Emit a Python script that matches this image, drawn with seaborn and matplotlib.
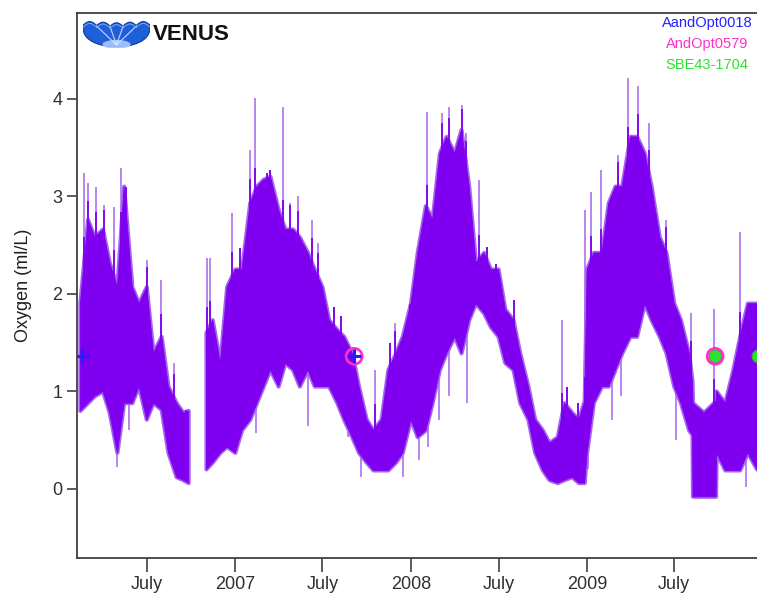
import numpy as np
import pandas as pd
import matplotlib
matplotlib.use("Agg")
import matplotlib.pyplot as plt
import matplotlib.dates as mdates
from matplotlib.patches import Polygon, Ellipse
import seaborn as sns

# ---- oxygen record: envelope of the sensor trace (upper / lower edge) ----
body_dates = [
    "2006-02-13", "2006-03-01", "2006-03-15", "2006-04-01", "2006-04-15",
    "2006-05-01", "2006-05-15", "2006-06-01", "2006-06-15", "2006-07-01",
    "2006-07-15", "2006-08-01", "2006-08-15", "2006-09-01", "2006-09-15",
    "2006-09-26", "2006-10-10", "2006-11-02", "2006-11-15", "2006-12-01",
    "2006-12-15", "2007-01-01", "2007-01-15", "2007-02-01", "2007-02-15",
    "2007-03-01", "2007-03-15", "2007-04-01", "2007-04-15", "2007-05-01",
    "2007-05-15", "2007-06-01", "2007-06-15", "2007-07-01", "2007-07-15",
    "2007-08-01", "2007-08-15", "2007-09-01", "2007-09-15", "2007-10-01",
    "2007-10-15", "2007-11-01", "2007-11-15", "2007-12-01", "2007-12-15",
    "2008-01-01", "2008-01-15", "2008-02-01", "2008-02-15", "2008-03-01",
    "2008-03-15", "2008-04-01", "2008-04-15", "2008-05-01", "2008-05-15",
    "2008-06-01", "2008-06-15", "2008-07-01", "2008-07-15", "2008-08-01",
    "2008-08-15", "2008-09-01", "2008-09-15", "2008-10-01", "2008-10-15",
    "2008-11-01", "2008-11-15", "2008-12-01", "2008-12-15", "2008-12-27",
    "2009-01-01", "2009-01-15", "2009-02-01", "2009-02-15", "2009-03-01",
    "2009-03-15", "2009-04-01", "2009-04-15", "2009-05-01", "2009-05-15",
    "2009-06-01", "2009-06-15", "2009-07-01", "2009-07-15", "2009-08-01",
    "2009-08-08", "2009-08-09", "2009-09-01", "2009-09-26", "2009-09-27",
    "2009-10-15", "2009-11-01", "2009-11-15", "2009-12-01", "2009-12-20",
]
body_hi = [
    1.90, 2.76, 2.58, 2.66, 2.32, 2.07, 3.10, 2.07, 1.90, 2.07,
    1.39, 1.56, 1.05, 0.88, 0.78, 0.80, np.nan, 1.60, 1.73, 1.29,
    2.07, 2.25, 2.25, 2.93, 3.10, 3.17, 3.20, 2.86, 2.66, 2.66,
    2.58, 2.42, 2.25, 2.07, 1.73, 1.63, 1.56, 1.39, 1.05, 0.71,
    0.60, 0.71, 1.22, 1.39, 1.56, 1.90, 2.42, 2.90, 2.76, 3.44,
    3.61, 3.44, 3.68, 3.10, 2.32, 2.42, 2.25, 2.25, 1.84, 1.73,
    1.39, 1.05, 0.71, 0.60, 0.47, 0.53, 0.88, 0.78, 0.71, 0.90,
    2.25, 2.42, 2.42, 2.93, 3.10, 3.10, 3.61, 3.61, 3.44, 3.10,
    2.58, 2.42, 1.90, 1.73, 1.39, 1.10, 0.88, 0.78, 0.90, 1.00,
    0.88, 1.22, 1.56, 1.90, 1.90,
]
body_lo = [
    0.80, 0.88, 0.95, 1.00, 0.78, 0.37, 0.88, 0.88, 1.05, 0.71,
    0.88, 0.81, 0.37, 0.12, 0.09, 0.06, np.nan, 0.20, 0.27, 0.37,
    0.43, 0.37, 0.60, 0.71, 0.88, 1.05, 1.22, 1.05, 1.29, 1.22,
    1.05, 1.22, 1.05, 1.05, 1.05, 0.88, 0.71, 0.53, 0.37, 0.27,
    0.19, 0.19, 0.19, 0.27, 0.37, 0.71, 0.53, 0.60, 0.88, 1.22,
    1.39, 1.56, 1.39, 1.73, 1.90, 1.80, 1.66, 1.56, 1.29, 1.22,
    0.88, 0.71, 0.37, 0.19, 0.09, 0.06, 0.09, 0.12, 0.06, 0.06,
    0.37, 0.88, 1.05, 1.05, 1.22, 1.39, 1.56, 1.56, 1.90, 1.73,
    1.56, 1.39, 1.05, 0.88, 0.60, 0.55, -0.08, -0.08, -0.08, 0.37,
    0.19, 0.19, 0.19, 0.37, 0.20,
]

# isolated upward excursions above the envelope
spike_up_dates = [
    "2006-02-21", "2006-02-28", "2006-03-17", "2006-04-03", "2006-04-23",
    "2006-05-08", "2006-05-18", "2006-07-02", "2006-07-30", "2006-08-27",
    "2006-09-21", "2006-11-04", "2006-11-10", "2006-12-25", "2007-01-11",
    "2007-02-01", "2007-02-10", "2007-03-08", "2007-03-15", "2007-04-11",
    "2007-04-25", "2007-05-11", "2007-06-09", "2007-06-22", "2007-07-25",
    "2007-08-08", "2007-10-19", "2007-11-19", "2007-11-29", "2007-12-30",
    "2008-02-04", "2008-03-06", "2008-03-21", "2008-04-16", "2008-04-25",
    "2008-05-21", "2008-06-07", "2008-06-26", "2008-08-02", "2008-11-09",
    "2008-11-21", "2008-12-13", "2008-12-27", "2009-01-09", "2009-01-29",
    "2009-03-06", "2009-03-27", "2009-04-16", "2009-05-10", "2009-06-14",
    "2009-08-04", "2009-09-21", "2009-11-15", "2009-12-10",
]
spike_up_vals = [
    3.24, 3.14, 3.10, 2.91, 2.89, 3.29, 3.10, 2.35, 2.14, 1.29,
    0.81, 2.37, 2.37, 2.83, 2.47, 3.48, 4.01, 3.24, 3.27, 3.92,
    2.93, 3.00, 2.76, 2.52, 1.87, 1.77, 1.22, 1.50, 1.70, 1.90,
    3.87, 3.85, 3.92, 3.94, 3.65, 3.17, 2.48, 2.31, 1.94, 1.73,
    1.05, 0.88, 2.86, 3.04, 3.27, 3.42, 4.21, 4.13, 3.75, 2.76,
    1.80, 1.84, 2.63, 1.90,
]

# isolated downward excursions below the envelope
spike_dn_dates = [
    "2006-05-01", "2006-05-26", "2007-02-12", "2007-05-31", "2007-08-23",
    "2007-09-20", "2007-12-16", "2008-01-18", "2008-02-06", "2008-02-29",
    "2008-03-20", "2008-04-27", "2009-01-03", "2009-02-22", "2009-03-13",
    "2009-07-05", "2009-11-27",
]
spike_dn_vals = [
    0.23, 0.60, 0.57, 0.65, 0.53, 0.12, 0.12, 0.30, 0.43, 0.71,
    0.95, 0.88, 0.20, 0.71, 0.95, 0.50, 0.02,
]

# sensor change-over markers
sensor_names = ["AandOpt0018", "AndOpt0579", "SBE43-1704"]
sensor_colors = ["#2020ff", "#ff30c8", "#30e030"]
blue_dates = ["2006-02-17", "2007-09-05"]
magenta_dates = ["2007-09-05", "2009-09-24"]
green_dates = ["2009-09-24", "2009-12-22"]
marker_level = 1.36

tick_dates = ["2006-07-01", "2007-01-01", "2007-07-01", "2008-01-01",
              "2008-07-01", "2009-01-01", "2009-07-01"]
tick_labels = ["July", "2007", "July", "2008", "July", "2009", "July"]
y_ticks = [0, 1, 2, 3, 4]

VIOLET = "#7f00f0"
LIGHT_VIOLET = "#a466ee"
AXIS_GREY = "#404040"

sns.set_theme(style="white")
plt.rcParams["font.family"] = ["Liberation Sans", "DejaVu Sans"]

fig = plt.figure(figsize=(7.57, 5.96), dpi=100)
ax = fig.add_axes([77 / 757, 38 / 596, 680 / 757, 545 / 596])

d = pd.to_datetime(body_dates)
hi = np.array(body_hi, dtype=float)
lo = np.array(body_lo, dtype=float)
valid = ~np.isnan(hi)

# soft halo first, solid body on top
ax.fill_between(d, lo, hi, where=valid, color=LIGHT_VIOLET, linewidth=3.0,
                edgecolor=LIGHT_VIOLET, zorder=1)
ax.fill_between(d, lo, hi, where=valid, color=VIOLET, linewidth=0.6,
                edgecolor=VIOLET, zorder=2)

dnum = mdates.date2num(d)
up_x = pd.to_datetime(spike_up_dates)
up_base = np.interp(mdates.date2num(up_x), dnum[valid], hi[valid]) - 0.25
ax.vlines(up_x, up_base, spike_up_vals, color=LIGHT_VIOLET, linewidth=1.1, zorder=1)
ax.vlines(up_x, up_base, np.minimum(spike_up_vals, up_base + 0.5),
          color=VIOLET, linewidth=1.3, zorder=2)

dn_x = pd.to_datetime(spike_dn_dates)
dn_base = np.interp(mdates.date2num(dn_x), dnum[valid], lo[valid]) + 0.25
ax.vlines(dn_x, spike_dn_vals, dn_base, color=LIGHT_VIOLET, linewidth=1.1, zorder=1)

# sensor markers
sns.scatterplot(x=pd.to_datetime(green_dates), y=[marker_level] * len(green_dates),
                ax=ax, color=sensor_colors[2], s=85, edgecolor="#30b030",
                linewidth=0.8, zorder=4, clip_on=True)
ax.scatter(pd.to_datetime(magenta_dates), [marker_level] * len(magenta_dates),
           s=130, facecolors="none", edgecolors=sensor_colors[1], linewidths=2.0,
           zorder=5)
ax.scatter(pd.to_datetime(blue_dates), [marker_level] * len(blue_dates),
           s=110, marker="+", color=sensor_colors[0], linewidths=2.2, zorder=6)

ax.set_xlim(pd.Timestamp("2006-02-06"), pd.Timestamp("2009-12-20"))
ax.set_ylim(-0.708, 4.88)
ax.set_xticks(pd.to_datetime(tick_dates))
ax.set_xticklabels(tick_labels)
ax.set_yticks(y_ticks)
ax.set_yticklabels([str(v) for v in y_ticks])

ax.tick_params(axis="x", bottom=True, length=10, width=1.2, color=AXIS_GREY,
               pad=3, labelsize=13, labelcolor="#303030", direction="out")
ax.tick_params(axis="y", left=True, length=7, width=1.2, color=AXIS_GREY,
               pad=3.5, labelsize=13, labelcolor="#303030", direction="out")

for side in ("left", "bottom", "top"):
    ax.spines[side].set_color(AXIS_GREY)
    ax.spines[side].set_linewidth(1.3)
ax.spines["right"].set_visible(False)
ax.grid(False)

ax.set_ylabel("Oxygen (ml/L)", fontsize=13, color="#202020")
ax.yaxis.set_label_coords(-0.066, 0.5)

# sensor legend (coloured text only)
for i, (name, col) in enumerate(zip(sensor_names, sensor_colors)):
    fig.text(707 / 757, 1 - (23 + 21 * i) / 596, name, color=col,
             fontsize=10.5, ha="center", va="center")

# VENUS logo: scalloped blue bowl and wordmark
lax = fig.add_axes([83 / 757, 1 - 48 / 596, 67 / 757, 30 / 596])
lax.set_xlim(0, 1)
lax.set_ylim(0, 1)
lax.axis("off")
t = np.linspace(0, np.pi, 60)
bx = 0.5 - 0.5 * np.cos(t)
by = 0.72 - 0.68 * np.sin(t) ** 0.8
n_sc = 5
top_x, top_y = [], []
for k in range(n_sc):
    x0 = 1 - k / n_sc
    x1 = 1 - (k + 1) / n_sc
    s = np.linspace(0, np.pi, 15)
    top_x.extend(x0 + (x1 - x0) * (s / np.pi))
    top_y.extend(0.72 + 0.12 * np.sin(s) + 0.10 * abs(0.5 - (x0 + x1) / 2))
outline = np.column_stack([np.concatenate([bx, top_x]), np.concatenate([by, top_y])])
lax.add_patch(Polygon(outline, closed=True, facecolor="#1f5fd8",
                      edgecolor="#0a3a9a", linewidth=0.8))
lax.add_patch(Ellipse((0.5, 0.12), 0.42, 0.30, facecolor="#a9c8ff",
                      edgecolor="none", alpha=0.9))
for k in range(1, n_sc):
    xk = 1 - k / n_sc
    lax.plot([0.5, xk], [0.10, 0.74], color="#d8e6ff", linewidth=0.8, alpha=0.9)
lax.plot(top_x, np.array(top_y) - 0.06, color="#7fa8ff", linewidth=0.7)

fig.text(153 / 757, 1 - 35 / 596, "VENUS", fontsize=16, fontweight="bold",
         color="#111111", ha="left", va="center")

fig.savefig("out.png", dpi=100)
